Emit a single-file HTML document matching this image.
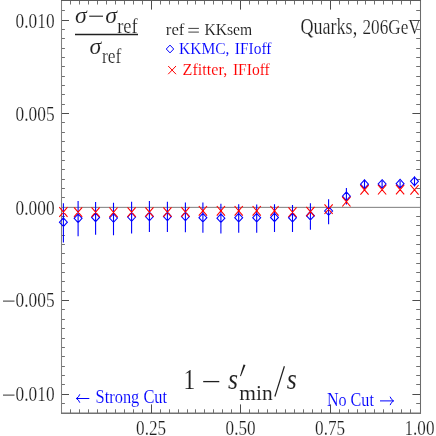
<!DOCTYPE html>
<html><head><meta charset="utf-8"><style>html,body{margin:0;padding:0;background:#fff;overflow:hidden}svg text{font-family:"Liberation Serif",serif;stroke:#fff;stroke-width:0.2px}svg text.c{stroke-width:0.1px}svg text.s{stroke-width:0.15px}svg text.b{stroke-width:0.08px}svg text.m{stroke-width:0.12px;fill:#111}</style></head><body><svg width="436" height="436" viewBox="0 0 436 436" style="display:block;will-change:transform">
<rect width="436" height="436" fill="#fff"/>
<text x="15.6" y="27.5" font-size="21.4" fill="#202020" textLength="39" lengthAdjust="spacingAndGlyphs">0.010</text>
<text x="15.6" y="120.6" font-size="21.4" fill="#202020" textLength="39" lengthAdjust="spacingAndGlyphs">0.005</text>
<text x="15.6" y="214.5" font-size="21.4" fill="#202020" textLength="39" lengthAdjust="spacingAndGlyphs">0.000</text>
<text x="15.6" y="306.8" font-size="21.4" fill="#202020" textLength="39" lengthAdjust="spacingAndGlyphs">0.005</text>
<text x="15.6" y="400.8" font-size="21.4" fill="#202020" textLength="39" lengthAdjust="spacingAndGlyphs">0.010</text>
<path d="M3 301.1H14.5" stroke="#333" stroke-width="1.0"/>
<path d="M3 395.1H14.5" stroke="#333" stroke-width="1.0"/>
<text x="136.1" y="435.1" font-size="21.4" fill="#202020" textLength="30" lengthAdjust="spacingAndGlyphs">0.25</text>
<text x="225.6" y="435.1" font-size="21.4" fill="#202020" textLength="30" lengthAdjust="spacingAndGlyphs">0.50</text>
<text x="315.1" y="435.1" font-size="21.4" fill="#202020" textLength="30" lengthAdjust="spacingAndGlyphs">0.75</text>
<text x="404.5" y="435.1" font-size="21.4" fill="#202020" textLength="30" lengthAdjust="spacingAndGlyphs">1.00</text>
<text x="300.4" y="34.2" font-size="22.6" fill="#202020" textLength="56.8" lengthAdjust="spacingAndGlyphs">Quarks,</text>
<text x="362.5" y="34.2" font-size="21.9" fill="#202020" textLength="58.2" lengthAdjust="spacingAndGlyphs">206GeV</text>
<text x="165.8" y="34.9" font-size="17.6" fill="#202020" class="m" textLength="18.6" lengthAdjust="spacingAndGlyphs">ref</text>
<path d="M188.3 28.4H198.9M188.3 32.1H198.9" stroke="#202020" stroke-width="0.85"/>
<text x="204.4" y="34.9" font-size="17.6" fill="#202020" class="m" textLength="47.8" lengthAdjust="spacingAndGlyphs">KKsem</text>
<text x="179.0" y="53.8" font-size="17.4" fill="#00f" class="c" textLength="50.4" lengthAdjust="spacingAndGlyphs">KKMC,</text>
<text x="234.8" y="53.8" font-size="17.4" fill="#00f" class="c" textLength="36.6" lengthAdjust="spacingAndGlyphs">IFIoff</text>
<text x="182.6" y="74.5" font-size="17.4" fill="#f00" class="c" textLength="44.6" lengthAdjust="spacingAndGlyphs">Zfitter,</text>
<text x="232.9" y="74.5" font-size="17.4" fill="#f00" class="c" textLength="36.9" lengthAdjust="spacingAndGlyphs">IFIoff</text>
<path d="M170 45.1l3.7 3.9l-3.7 3.9l-3.7 -3.9z" stroke="#00f" stroke-width="1" fill="none"/>
<path d="M168.2 66L176 74.2M176 66L168.2 74.2" stroke="#f00" stroke-width="1" fill="none"/>
<text x="95.6" y="402.8" font-size="17.8" fill="#00f" class="c" textLength="71.5" lengthAdjust="spacingAndGlyphs">Strong Cut</text>
<text x="326.9" y="406.0" font-size="17.8" fill="#00f" class="c" textLength="47" lengthAdjust="spacingAndGlyphs">No Cut</text>
<path d="M76.3 398.5H89.3M79.8 394.3Q78.8 397.3 76.3 398.5Q78.8 399.7 79.8 402.7" stroke="#00f" stroke-width="1" fill="none"/>
<path d="M380 400.9H393.6M390.1 396.7Q391.1 399.7 393.6 400.9Q391.1 402.1 390.1 405.1" stroke="#00f" stroke-width="1" fill="none"/>
<text x="75" y="22.8" font-size="22.2" fill="#202020" class="s" textLength="11.8" lengthAdjust="spacingAndGlyphs" style="font-style:italic">σ</text>
<path d="M89.2 16.2H103" stroke="#202020" stroke-width="1.1"/>
<text x="105.2" y="22.8" font-size="22.2" fill="#202020" class="s" textLength="11.8" lengthAdjust="spacingAndGlyphs" style="font-style:italic">σ</text>
<text x="117.2" y="32.5" font-size="21" fill="#202020" textLength="20.4" lengthAdjust="spacingAndGlyphs">ref</text>
<path d="M75 34.5H138" stroke="#202020" stroke-width="1.3"/>
<text x="89.5" y="54.3" font-size="22.2" fill="#202020" class="s" textLength="11.8" lengthAdjust="spacingAndGlyphs" style="font-style:italic">σ</text>
<text x="102" y="63.3" font-size="21" fill="#202020" textLength="19.3" lengthAdjust="spacingAndGlyphs">ref</text>
<text x="183.4" y="388.7" font-size="29.8" fill="#202020" class="b" textLength="11.6" lengthAdjust="spacingAndGlyphs">1</text>
<path d="M203.2 381.6H219.3" stroke="#202020" stroke-width="1.3"/>
<text x="228" y="389.0" font-size="29.5" fill="#202020" class="b" textLength="10" lengthAdjust="spacingAndGlyphs" style="font-style:italic">s</text>
<path d="M243.5 364.4L245.5 365.1L240.9 376.2L240.0 375.9Z" fill="#202020"/>
<text x="239.3" y="399.5" font-size="21.4" fill="#202020" class="b" textLength="33.4" lengthAdjust="spacingAndGlyphs">min</text>
<path d="M284.4 366.2L274.9 396.5" stroke="#202020" stroke-width="1.2"/>
<text x="286.8" y="389.0" font-size="29.5" fill="#202020" class="b" textLength="10" lengthAdjust="spacingAndGlyphs" style="font-style:italic">s</text>
<path d="M61 207.35H421" stroke="#7c7c7c" stroke-width="1" fill="none"/>
<path d="M61.5 0V414" stroke="#808080" stroke-width="1.05" fill="none"/>
<path d="M420.5 0V414" stroke="#6c6c6c" stroke-width="1.05" fill="none"/>
<path d="M61 0.5H421" stroke="#5a5a5a" stroke-width="1.05" fill="none"/>
<path d="M61 413.25H421" stroke="#727272" stroke-width="1.45" fill="none"/>
<path d="M70.5 413v-3.7M70.5 1v3.5M79.5 413v-3.7M79.5 1v3.5M88.5 413v-3.7M88.5 1v3.5M97.5 413v-3.7M97.5 1v3.5M106.5 413v-3.7M106.5 1v3.5M115.5 413v-3.7M115.5 1v3.5M124.5 413v-3.7M124.5 1v3.5M133.5 413v-3.7M133.5 1v3.5M142.5 413v-3.7M142.5 1v3.5M160.5 413v-3.7M160.5 1v3.5M169.5 413v-3.7M169.5 1v3.5M178.5 413v-3.7M178.5 1v3.5M187.5 413v-3.7M187.5 1v3.5M195.5 413v-3.7M195.5 1v3.5M204.5 413v-3.7M204.5 1v3.5M213.5 413v-3.7M213.5 1v3.5M222.5 413v-3.7M222.5 1v3.5M231.5 413v-3.7M231.5 1v3.5M249.5 413v-3.7M249.5 1v3.5M258.5 413v-3.7M258.5 1v3.5M267.5 413v-3.7M267.5 1v3.5M276.5 413v-3.7M276.5 1v3.5M285.5 413v-3.7M285.5 1v3.5M294.5 413v-3.7M294.5 1v3.5M303.5 413v-3.7M303.5 1v3.5M312.5 413v-3.7M312.5 1v3.5M321.5 413v-3.7M321.5 1v3.5M339.5 413v-3.7M339.5 1v3.5M348.5 413v-3.7M348.5 1v3.5M357.5 413v-3.7M357.5 1v3.5M365.5 413v-3.7M365.5 1v3.5M374.5 413v-3.7M374.5 1v3.5M383.5 413v-3.7M383.5 1v3.5M392.5 413v-3.7M392.5 1v3.5M401.5 413v-3.7M401.5 1v3.5M410.5 413v-3.7M410.5 1v3.5M62 403.5h2.9M420 403.5h-3.8M62 384.5h2.9M420 384.5h-3.8M62 375.5h2.9M420 375.5h-3.8M62 366.5h2.9M420 366.5h-3.8M62 356.5h2.9M420 356.5h-3.8M62 347.5h2.9M420 347.5h-3.8M62 338.5h2.9M420 338.5h-3.8M62 328.5h2.9M420 328.5h-3.8M62 319.5h2.9M420 319.5h-3.8M62 309.5h2.9M420 309.5h-3.8M62 291.5h2.9M420 291.5h-3.8M62 281.5h2.9M420 281.5h-3.8M62 272.5h2.9M420 272.5h-3.8M62 263.5h2.9M420 263.5h-3.8M62 253.5h2.9M420 253.5h-3.8M62 244.5h2.9M420 244.5h-3.8M62 235.5h2.9M420 235.5h-3.8M62 225.5h2.9M420 225.5h-3.8M62 216.5h2.9M420 216.5h-3.8M62 197.5h2.9M420 197.5h-3.8M62 188.5h2.9M420 188.5h-3.8M62 179.5h2.9M420 179.5h-3.8M62 169.5h2.9M420 169.5h-3.8M62 160.5h2.9M420 160.5h-3.8M62 151.5h2.9M420 151.5h-3.8M62 141.5h2.9M420 141.5h-3.8M62 132.5h2.9M420 132.5h-3.8M62 122.5h2.9M420 122.5h-3.8M62 104.5h2.9M420 104.5h-3.8M62 94.5h2.9M420 94.5h-3.8M62 85.5h2.9M420 85.5h-3.8M62 76.5h2.9M420 76.5h-3.8M62 66.5h2.9M420 66.5h-3.8M62 57.5h2.9M420 57.5h-3.8M62 48.5h2.9M420 48.5h-3.8M62 38.5h2.9M420 38.5h-3.8M62 29.5h2.9M420 29.5h-3.8M62 10.5h2.9M420 10.5h-3.8" stroke="#707070" stroke-width="1" fill="none"/>
<path d="M151.5 413v-8.6M151.5 1v8.6M240.5 413v-8.6M240.5 1v8.6M330.5 413v-8.6M330.5 1v8.6M62 394.5h7M420 394.5h-7.6M62 300.5h7M420 300.5h-7.6M62 113.5h7M420 113.5h-7.6M62 20.5h7M420 20.5h-7.6" stroke="#4c4c4c" stroke-width="1" fill="none"/>
<path d="M63.40 203.20V242.50M63.40 217.90l3.95 4.3l-3.95 4.3l-3.95 -4.3zM78.10 201.00V236.30M78.10 214.00l3.95 4.3l-3.95 4.3l-3.95 -4.3zM95.60 201.90V234.70M95.60 213.10l3.95 4.3l-3.95 4.3l-3.95 -4.3zM113.50 202.80V235.20M113.50 213.70l3.95 4.3l-3.95 4.3l-3.95 -4.3zM131.60 201.70V233.60M131.60 212.70l3.95 4.3l-3.95 4.3l-3.95 -4.3zM149.40 200.90V231.90M149.40 212.20l3.95 4.3l-3.95 4.3l-3.95 -4.3zM167.40 201.70V231.90M167.40 212.20l3.95 4.3l-3.95 4.3l-3.95 -4.3zM185.40 202.50V232.20M185.40 212.20l3.95 4.3l-3.95 4.3l-3.95 -4.3zM202.90 202.50V232.70M202.90 213.40l3.95 4.3l-3.95 4.3l-3.95 -4.3zM220.90 203.80V233.60M220.90 213.90l3.95 4.3l-3.95 4.3l-3.95 -4.3zM238.70 204.20V232.70M238.70 213.40l3.95 4.3l-3.95 4.3l-3.95 -4.3zM256.70 204.50V232.70M256.70 213.40l3.95 4.3l-3.95 4.3l-3.95 -4.3zM274.50 204.20V231.90M274.50 213.10l3.95 4.3l-3.95 4.3l-3.95 -4.3zM292.50 205.00V231.90M292.50 213.40l3.95 4.3l-3.95 4.3l-3.95 -4.3zM310.40 203.30V229.80M310.40 211.40l3.95 4.3l-3.95 4.3l-3.95 -4.3zM328.60 199.30V224.20M328.60 206.70l3.95 4.3l-3.95 4.3l-3.95 -4.3zM346.40 188.00V204.40M346.40 191.90l3.95 4.3l-3.95 4.3l-3.95 -4.3zM364.50 179.30V189.50M364.50 179.90l3.95 4.3l-3.95 4.3l-3.95 -4.3zM382.10 181.00V187.30M382.10 179.70l3.95 4.3l-3.95 4.3l-3.95 -4.3zM400.10 181.00V187.00M400.10 179.40l3.95 4.3l-3.95 4.3l-3.95 -4.3zM414.50 176.20V186.40M414.50 177.00l3.95 4.3l-3.95 4.3l-3.95 -4.3z" stroke="#00f" stroke-width="1.1" fill="none"/>
<path d="M59.30 207.20L67.50 216.80M67.50 207.20L59.30 216.80M74.00 207.30L82.20 216.90M82.20 207.30L74.00 216.90M91.50 207.30L99.70 216.90M99.70 207.30L91.50 216.90M109.40 207.50L117.60 217.10M117.60 207.50L109.40 217.10M127.50 207.30L135.70 216.90M135.70 207.30L127.50 216.90M145.30 207.30L153.50 216.90M153.50 207.30L145.30 216.90M163.30 207.30L171.50 216.90M171.50 207.30L163.30 216.90M181.30 207.20L189.50 216.80M189.50 207.20L181.30 216.80M198.80 206.00L207.00 215.60M207.00 206.00L198.80 215.60M216.80 206.00L225.00 215.60M225.00 206.00L216.80 215.60M234.60 206.00L242.80 215.60M242.80 206.00L234.60 215.60M252.60 206.00L260.80 215.60M260.80 206.00L252.60 215.60M270.40 206.00L278.60 215.60M278.60 206.00L270.40 215.60M288.40 207.40L296.60 217.00M296.60 207.40L288.40 217.00M306.30 206.80L314.50 216.40M314.50 206.80L306.30 216.40M324.50 204.40L332.70 214.00M332.70 204.40L324.50 214.00M342.30 196.90L350.50 206.50M350.50 196.90L342.30 206.50M360.40 185.10L368.60 194.70M368.60 185.10L360.40 194.70M378.00 184.90L386.20 194.50M386.20 184.90L378.00 194.50M396.00 184.80L404.20 194.40M404.20 184.80L396.00 194.40M410.40 185.00L418.60 194.60M418.60 185.00L410.40 194.60" stroke="#f00" stroke-width="1.1" fill="none"/>
</svg></body></html>
